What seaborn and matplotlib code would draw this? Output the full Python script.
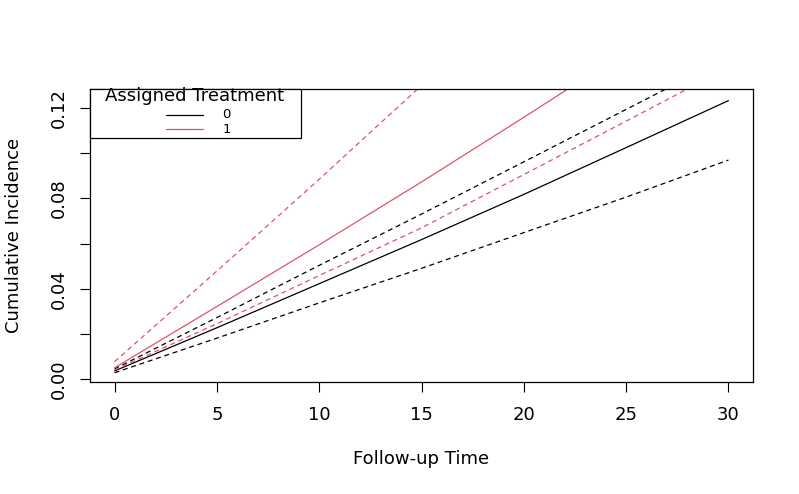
import pandas as pd
import matplotlib
matplotlib.use("Agg")
import matplotlib.pyplot as plt
from matplotlib.patches import Rectangle
from matplotlib.lines import Line2D
import seaborn as sns

# follow-up times and cumulative incidence curves
times = [0, 5, 10, 15, 20, 25, 30]

ci_0_est = [0.0037, 0.0228, 0.0423, 0.0618, 0.0818, 0.1025, 0.1233]
ci_0_lo = [0.0029, 0.0182, 0.0338, 0.0491, 0.0649, 0.0806, 0.0970]
ci_0_hi = [0.0046, 0.0273, 0.0504, 0.0731, 0.0962, 0.1194, 0.1426]

ci_1_est = [0.0051, 0.0322, 0.0595, 0.0873, 0.1159, 0.1450, 0.1750]
ci_1_lo = [0.0041, 0.0246, 0.0459, 0.0670, 0.0906, 0.1142, 0.1380]
ci_1_hi = [0.0078, 0.0479, 0.0885, 0.1300, 0.1720, 0.2150, 0.2600]

groups = ["0", "1"]
group_colors = {"0": "black", "1": "#DF536B"}

# long table for seaborn: one line per (group, curve)
rows = []
for g, curves in zip(groups, [(ci_0_est, ci_0_lo, ci_0_hi), (ci_1_est, ci_1_lo, ci_1_hi)]):
    for kind, vals in zip(["est", "lo", "hi"], curves):
        for t, v in zip(times, vals):
            rows.append({"time": t, "ci": v, "group": g, "kind": kind})
df = pd.DataFrame(rows)

sns.set_style("ticks")
plt.rcParams["font.family"] = ["DejaVu Sans"]
plt.rcParams["text.color"] = "black"
plt.rcParams["axes.labelcolor"] = "black"

fig = plt.figure(figsize=(7.99, 4.94), dpi=100)
ax = fig.add_axes([0.11264, 0.22733, 0.82979, 0.59190])

sns.lineplot(data=df, x="time", y="ci", hue="group", style="kind",
             palette=group_colors,
             dashes={"est": "", "lo": (4, 3), "hi": (4, 3)},
             linewidth=0.9, legend=False, ax=ax)

ax.set_xlim(-1.2, 31.2)
ax.set_ylim(-0.00106, 0.1283)

ax.set_xticks([0, 5, 10, 15, 20, 25, 30])
ax.set_xticklabels(["0", "5", "10", "15", "20", "25", "30"])
yticks = [0.00, 0.02, 0.04, 0.06, 0.08, 0.10, 0.12]
ax.set_yticks(yticks)
ax.set_yticklabels(["0.00", "", "0.04", "", "0.08", "", "0.12"],
                   rotation=90, va="center")

ax.tick_params(axis="both", length=7.2, width=0.8, color="black",
               labelsize=13, labelcolor="black", direction="out")
ax.tick_params(axis="x", pad=10.5)
ax.tick_params(axis="y", pad=9)

for s in ax.spines.values():
    s.set_visible(True)
    s.set_color("black")
    s.set_linewidth(0.9)

ax.set_xlabel("Follow-up Time", fontsize=13, color="black")
ax.set_ylabel("Cumulative Incidence", fontsize=13, color="black")
ax.xaxis.set_label_coords(0.5, -0.2644)
ax.xaxis.label.set_verticalalignment("center")
ax.yaxis.set_label_coords(-0.1146, 0.5)
ax.yaxis.label.set_verticalalignment("center")

# R-style legend box in the top-left corner
lx0, lx1 = 0.0, (301.3 - 90) / 663
ly0 = (381.7 - 137.7) / 292.4
ax.add_patch(Rectangle((lx0, ly0), lx1 - lx0, 1 - ly0, transform=ax.transAxes,
                       facecolor="white", edgecolor="black", linewidth=0.9,
                       zorder=5, clip_on=False))
ax.text((195 - 90) / 663, (381.7 - 95.5) / 292.4, "Assigned Treatment",
        transform=ax.transAxes, ha="center", va="center", fontsize=13,
        color="black", zorder=6)
for g, ypx, typx in zip(groups, [114.5, 128.5], [114.5, 129]):
    ax.add_line(Line2D([(166 - 90) / 663, (202.7 - 90) / 663],
                       [(381.7 - ypx) / 292.4] * 2, transform=ax.transAxes,
                       color=group_colors[g], linewidth=0.9, zorder=6))
    ax.text((226.7 - 90) / 663, (381.7 - typx) / 292.4, g,
            transform=ax.transAxes, ha="center", va="center", fontsize=9.5,
            color="black", zorder=6)

fig.savefig("out.png", dpi=100)
